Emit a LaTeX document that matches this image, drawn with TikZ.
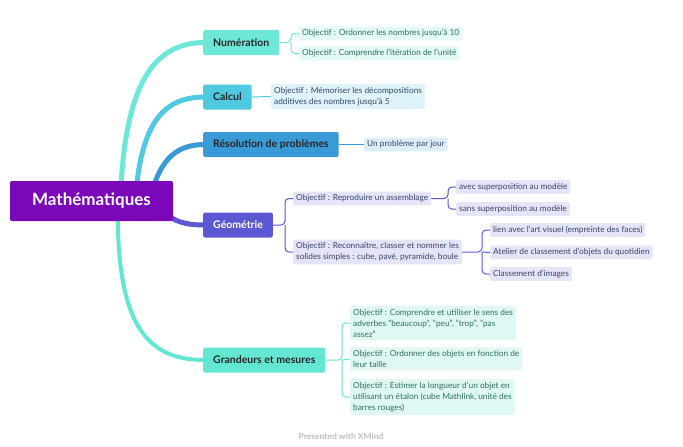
\documentclass[tikz,border=0pt]{standalone}
\usepackage{fontspec}
\setmainfont{Lato}
\begin{document}
\begin{tikzpicture}[x=1pt,y=-1pt,
  main/.style={rounded corners=2pt,anchor=west,minimum height=25pt,inner xsep=10pt,font=\fontsize{10.5}{11}\selectfont\bfseries,text=black!85},
  leaf/.style={rounded corners=2pt,anchor=west,inner xsep=3pt,inner ysep=3pt,font=\fontsize{8.3}{11}\selectfont,align=left},
  br/.style={line width=1pt,rounded corners=4pt}]
\definecolor{cnum}{HTML}{6DE8D8}\definecolor{ccal}{HTML}{4FC9E0}\definecolor{cres}{HTML}{3A9AD6}
\definecolor{cgeo}{HTML}{5B58D2}\definecolor{cgra}{HTML}{63E6D2}\definecolor{croot}{HTML}{7A08B8}
\definecolor{lnum}{HTML}{E3FAF6}\definecolor{lcal}{HTML}{DFF3FA}\definecolor{lres}{HTML}{DEEEF9}
\definecolor{lgeo}{HTML}{E6E4F7}\definecolor{lgra}{HTML}{E0F8F3}
\definecolor{tg}{HTML}{2E6E62}\definecolor{tb}{HTML}{35456A}
\useasboundingbox[fill=white] (0,0) rectangle (683,447);
\coordinate (pn) at (205,42.5);\coordinate (pc) at (205,97);\coordinate (pr) at (205,144.5);
\coordinate (pg) at (205,225);\coordinate (pa) at (205,360);
\draw[cnum,line width=5pt] (120,215) .. controls (122,90) and (150,42.5) .. (pn);
\draw[ccal,line width=5pt] (135,205) .. controls (140,120) and (165,97) .. (pc);
\draw[cres,line width=5pt] (150,200) .. controls (160,155) and (180,144.5) .. (pr);
\draw[cgeo,line width=5pt] (160,210) .. controls (175,222) and (185,225) .. (pg);
\draw[cgra,line width=4pt] (118,200) .. controls (115,330) and (150,360) .. (pa);
\node[main,fill=cnum] (num) at (203,42.5) {Numération};
\node[main,fill=ccal] (cal) at (203,97) {Calcul};
\node[main,fill=cres] (res) at (203,144.5) {Résolution de problèmes};
\node[main,fill=cgeo,text=white] (geo) at (203,225) {Géométrie};
\node[main,fill=cgra] (gra) at (203,360) {Grandeurs et mesures};
\node[fill=croot,rounded corners=2pt,minimum width=163pt,minimum height=40pt,text=white,font=\fontsize{17}{18}\selectfont\bfseries] (root) at (91.5,201) {Mathématiques};
% leaves
\node[leaf,fill=lnum,text=tg] (n1) at (299,33.5) {Objectif : Ordonner les nombres jusqu'à 10};
\node[leaf,fill=lnum,text=tg] (n2) at (299,53.5) {Objectif : Comprendre l'itération de l'unité};
\node[leaf,fill=lcal,text=tb] (c1) at (271,96.5) {Objectif : Mémoriser les décompositions\\additives des nombres jusqu'à 5};
\node[leaf,fill=lres,text=tb] (r1) at (364,144.5) {Un problème par jour};
\node[leaf,fill=lgeo,text=tb] (g1) at (293,198.5) {Objectif : Reproduire un assemblage};
\node[leaf,fill=lgeo,text=tb] (g2) at (293,252) {Objectif : Reconnaître, classer et nommer les\\solides simples : cube, pavé, pyramide, boule};
\node[leaf,fill=lgeo,text=tb] (g11) at (456,187) {avec superposition au modèle};
\node[leaf,fill=lgeo,text=tb] (g12) at (456,209) {sans superposition au modèle};
\node[leaf,fill=lgeo,text=tb] (g21) at (490,230) {lien avec l'art visuel (empreinte des faces)};
\node[leaf,fill=lgeo,text=tb] (g22) at (490,252.5) {Atelier de classement d'objets du quotidien};
\node[leaf,fill=lgeo,text=tb] (g23) at (490,274) {Classement d'images};
\node[leaf,fill=lgra,text=tg] (a1) at (350,323) {Objectif : Comprendre et utiliser le sens des\\adverbes "beaucoup", "peu", "trop", "pas\\assez"};
\node[leaf,fill=lgra,text=tg] (a2) at (350,359) {Objectif : Ordonner des objets en fonction de\\leur taille};
\node[leaf,fill=lgra,text=tg] (a3) at (350,397) {Objectif : Estimer la longueur d'un objet en\\utilisant un étalon (cube Mathlink, unité des\\barres rouges)};
% brackets
\draw[br,cnum] (num.east) -- (291,42.5) |- (n1.west); \draw[br,cnum] (291,42.5) |- (n2.west);
\draw[br,ccal] (cal.east) -- (c1.west);
\draw[br,cres] (res.east) -- (r1.west);
\draw[br,cgeo] (geo.east) -- (285,225) |- (g1.west); \draw[br,cgeo] (285,225) |- (g2.west);
\draw[br,cgeo] (g1.east) -- (448,198.5) |- (g11.west); \draw[br,cgeo] (448,198.5) |- (g12.west);
\draw[br,cgeo] (g2.east) -- (482,252) |- (g21.west); \draw[br,cgeo] (482,252) |- (g23.west); \draw[br,cgeo] (482,252) -- (g22.west);
\draw[br,cgra] (gra.east) -- (342,360) |- (a1.west); \draw[br,cgra] (342,360) |- (a3.west); \draw[br,cgra] (342,360) -- (a2.west);
\node[font=\fontsize{8.5}{9}\selectfont\bfseries,text=black!25] (xm) at (341,436) {Presented with XMind};
\end{tikzpicture}
\end{document}
